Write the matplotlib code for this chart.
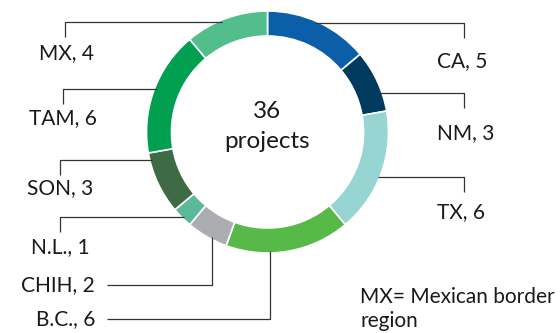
import numpy as np
import matplotlib
matplotlib.use('Agg')
import matplotlib.pyplot as plt

# Project counts by region, clockwise from the top
regions = ['CA', 'NM', 'TX', 'B.C.', 'CHIH', 'N.L.', 'SON', 'TAM', 'MX']
counts = [5, 3, 6, 6, 2, 1, 3, 6, 4]
colors = ['#0a5fa8', '#003a5c', '#96d5d2', '#57b947', '#acadb0',
          '#5cb89a', '#3e6b43', '#00a050', '#52be8c']

plt.rcParams['font.family'] = ['Lato', 'DejaVu Sans']

W, H = 560, 333
cx, cy, R = 267.5, 132, 121
ring = 25

fig = plt.figure(figsize=(W / 100, H / 100), dpi=100)
ax = fig.add_axes([0, 0, 1, 1])

# y axis is flipped, so startangle -90 + counterclock draws clockwise from top
ax.pie(counts, colors=colors, startangle=-90, counterclock=True,
       center=(cx, cy), radius=R, frame=True,
       wedgeprops=dict(width=ring, edgecolor='white', linewidth=1.2))

ax.set_xlim(0, W)
ax.set_ylim(H, 0)
ax.set_aspect('equal')
ax.axis('off')

line_kw = dict(color='#333333', lw=0.9, solid_capstyle='butt')
fs = 15
txt_color = '#1a1a1a'
r_hit = R - 2


def ring_x(y, side):
    return cx + side * np.sqrt(r_hit ** 2 - (y - cy) ** 2)


def ring_y(x):
    return cy + np.sqrt(r_hit ** 2 - (x - cx) ** 2)


# side labels: (line y, elbow x, text anchor x, text y, side)
side_layout = {
    'MX': (22, 65, 94, 53, -1),
    'TAM': (89, 63, 97, 118, -1),
    'SON': (160, 60, 93, 188, -1),
    'N.L.': (217, 60, 90, 247, -1),
    'CA': (23, 464, 437, 61, 1),
    'NM': (93, 464, 437, 133, 1),
    'TX': (177, 464, 437, 212, 1),
}
# bottom labels: (vertical line x, line y, text right x)
bottom_layout = {
    'CHIH': (212, 285, 95),
    'B.C.': (270, 319, 95),
}

for name, n in zip(regions, counts):
    label = f'{name}, {n}'
    if name in side_layout:
        ly, ex, tx, ty, side = side_layout[name]
        ax.plot([ring_x(ly, side), ex, ex], [ly, ly, ly + 15], **line_kw)
        ax.text(tx, ty, label, ha='right' if side < 0 else 'left',
                va='center', fontsize=fs, color=txt_color)
    else:
        vx, ly, tx = bottom_layout[name]
        ax.plot([vx, vx, 107], [ring_y(vx), ly, ly], **line_kw)
        ax.text(tx, ly, label, ha='right', va='center', fontsize=fs,
                color=txt_color)

ax.text(cx, 111, '36', ha='center', va='center', fontsize=17.5,
        color=txt_color)
ax.text(cx, 141, 'projects', ha='center', va='center', fontsize=17.5,
        color=txt_color)

ax.text(360, 297, 'MX= Mexican border', ha='left', va='center',
        fontsize=fs, color=txt_color)
ax.text(360, 321, 'region', ha='left', va='center', fontsize=fs,
        color=txt_color)

fig.savefig('out.png', dpi=100)
